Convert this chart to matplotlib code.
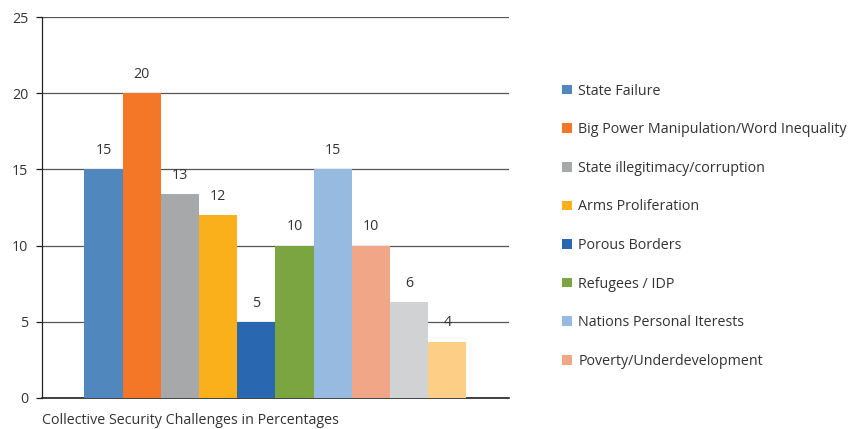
import numpy as np
import matplotlib.pyplot as plt

plt.rcParams['font.family'] = ['Open Sans', 'DejaVu Sans']

labels = ['State Failure', 'Big Power Manipulation/Word Inequality',
          'State illegitimacy/corruption', 'Arms Proliferation',
          'Porous Borders', 'Refugees / IDP', 'Nations Personal Iterests',
          'Poverty/Underdevelopment', None, None]
values = [15, 20, 13.4, 12, 5, 10, 15, 10, 6.3, 3.7]
colors = ['#5087BD', '#F37726', '#A7A8AA', '#FAB01A', '#2967B0',
          '#7AA541', '#97BAE0', '#F2A688', '#D1D2D3', '#FDCF86']

fig = plt.figure(figsize=(8.52, 4.29), dpi=100)
ax = fig.add_axes([0.0493, 0.0723, 0.548, 0.888])

w = 0.0818
n = len(values)
x = (np.arange(n) - (n - 1) / 2) * w
handles = []
for xi, v, c, lab in zip(x, values, colors, labels):
    b = ax.bar(xi, v, width=w, color=c, zorder=3)
    ax.bar_label(b, fmt='%.0f', padding=8, fontsize=10.3, color='#333333')
    if lab:
        handles.append((b, lab))

ax.set_xlim(-0.5, 0.5)
ax.set_ylim(0, 25)
ax.set_yticks(range(0, 26, 5))
ax.set_xticks([])
ax.yaxis.grid(True, color='#555555', linewidth=0.9, zorder=0)
for s in ['top', 'right']:
    ax.spines[s].set_visible(False)
ax.spines['left'].set_color('#222222')
ax.spines['bottom'].set_color('#222222')
ax.spines['left'].set_linewidth(0.9)
ax.spines['bottom'].set_linewidth(1.2)
ax.tick_params(axis='y', length=4, width=0.9, color='#222222', labelsize=10.3,
               labelcolor='#333333', pad=6)

ax.set_xlabel('Collective Security Challenges in Percentages', fontsize=10.3,
              color='#333333', loc='left', labelpad=11)

fig.legend([h for h, _ in handles], [l for _, l in handles],
           loc='upper left', bbox_to_anchor=(0.645, 0.835), frameon=False,
           fontsize=10.3, handlelength=0.65, handleheight=0.65,
           handletextpad=0.45, labelspacing=1.65, labelcolor='#333333')

fig.savefig('out.png', dpi=100)
